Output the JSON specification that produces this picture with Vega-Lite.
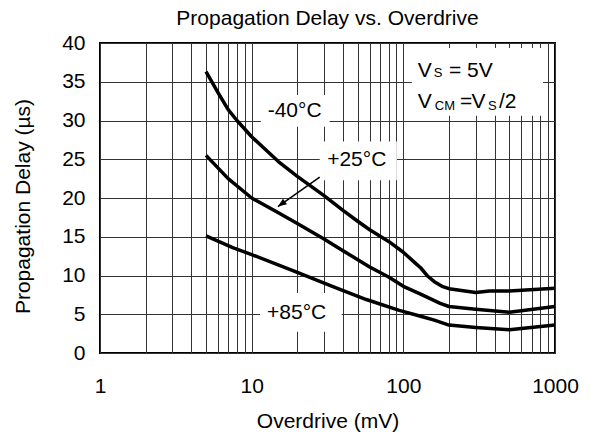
{
  "$schema": "https://vega.github.io/schema/vega-lite/v6.json",
  "width": 455,
  "height": 310,
  "autosize": {"type": "none"},
  "padding": {"left": 100, "top": 43, "right": 35, "bottom": 84},
  "background": "white",
  "config": {
    "font": "Liberation Sans",
    "view": {"stroke": "#000", "strokeWidth": 2},
    "axis": {
      "domain": false,
      "ticks": false,
      "tickSize": 0,
      "grid": true,
      "gridColor": "#333",
      "gridWidth": 1,
      "gridOpacity": 1,
      "labelFont": "Liberation Sans",
      "labelFontSize": 21,
      "labelColor": "#000",
      "labelFlush": false,
      "labelOverlap": false,
      "titleFont": "Liberation Sans",
      "titleFontSize": 21,
      "titleFontWeight": "normal",
      "titleColor": "#000"
    }
  },
  "title": {
    "text": "Propagation Delay vs. Overdrive",
    "font": "Liberation Sans",
    "fontSize": 21,
    "fontWeight": "normal",
    "color": "#000",
    "anchor": "middle",
    "offset": 3
  },
  "datasets": {
    "curves": [
      {"temp": "-40°C", "overdrive": 5, "delay": 36.3},
      {"temp": "-40°C", "overdrive": 6, "delay": 33.6},
      {"temp": "-40°C", "overdrive": 7, "delay": 31.4},
      {"temp": "-40°C", "overdrive": 8, "delay": 30.0},
      {"temp": "-40°C", "overdrive": 10, "delay": 27.9},
      {"temp": "-40°C", "overdrive": 15, "delay": 24.7},
      {"temp": "-40°C", "overdrive": 20, "delay": 22.8},
      {"temp": "-40°C", "overdrive": 30, "delay": 20.3},
      {"temp": "-40°C", "overdrive": 40, "delay": 18.4},
      {"temp": "-40°C", "overdrive": 50, "delay": 17.0},
      {"temp": "-40°C", "overdrive": 60, "delay": 15.9},
      {"temp": "-40°C", "overdrive": 80, "delay": 14.4},
      {"temp": "-40°C", "overdrive": 100, "delay": 13.0},
      {"temp": "-40°C", "overdrive": 120, "delay": 11.6},
      {"temp": "-40°C", "overdrive": 130, "delay": 11.0},
      {"temp": "-40°C", "overdrive": 145, "delay": 9.9},
      {"temp": "-40°C", "overdrive": 160, "delay": 9.2},
      {"temp": "-40°C", "overdrive": 180, "delay": 8.6},
      {"temp": "-40°C", "overdrive": 200, "delay": 8.3},
      {"temp": "-40°C", "overdrive": 300, "delay": 7.8},
      {"temp": "-40°C", "overdrive": 370, "delay": 8.0},
      {"temp": "-40°C", "overdrive": 500, "delay": 8.0},
      {"temp": "-40°C", "overdrive": 1000, "delay": 8.35},
      {"temp": "+25°C", "overdrive": 5, "delay": 25.5},
      {"temp": "+25°C", "overdrive": 7, "delay": 22.5},
      {"temp": "+25°C", "overdrive": 10, "delay": 20.0},
      {"temp": "+25°C", "overdrive": 15, "delay": 18.1},
      {"temp": "+25°C", "overdrive": 20, "delay": 16.7},
      {"temp": "+25°C", "overdrive": 30, "delay": 14.7},
      {"temp": "+25°C", "overdrive": 40, "delay": 13.2},
      {"temp": "+25°C", "overdrive": 60, "delay": 11.1},
      {"temp": "+25°C", "overdrive": 80, "delay": 9.8},
      {"temp": "+25°C", "overdrive": 100, "delay": 8.6},
      {"temp": "+25°C", "overdrive": 130, "delay": 7.6},
      {"temp": "+25°C", "overdrive": 175, "delay": 6.4},
      {"temp": "+25°C", "overdrive": 200, "delay": 6.0},
      {"temp": "+25°C", "overdrive": 300, "delay": 5.66},
      {"temp": "+25°C", "overdrive": 500, "delay": 5.25},
      {"temp": "+25°C", "overdrive": 1000, "delay": 6.0},
      {"temp": "+85°C", "overdrive": 5, "delay": 15.1},
      {"temp": "+85°C", "overdrive": 7.5, "delay": 13.6},
      {"temp": "+85°C", "overdrive": 10, "delay": 12.7},
      {"temp": "+85°C", "overdrive": 20, "delay": 10.4},
      {"temp": "+85°C", "overdrive": 34, "delay": 8.6},
      {"temp": "+85°C", "overdrive": 57, "delay": 6.9},
      {"temp": "+85°C", "overdrive": 94, "delay": 5.5},
      {"temp": "+85°C", "overdrive": 130, "delay": 4.75},
      {"temp": "+85°C", "overdrive": 160, "delay": 4.25},
      {"temp": "+85°C", "overdrive": 200, "delay": 3.6},
      {"temp": "+85°C", "overdrive": 300, "delay": 3.3},
      {"temp": "+85°C", "overdrive": 500, "delay": 3.0},
      {"temp": "+85°C", "overdrive": 1000, "delay": 3.6}
    ],
    "boxes": [
      {"name": "-40°C", "x1": 11.5, "x2": 32.7, "y1": 29.2, "y2": 33.3},
      {"name": "+25°C", "x1": 28.1, "x2": 90.6, "y1": 22.3, "y2": 27.3},
      {"name": "+85°C", "x1": 11.35, "x2": 39.2, "y1": 2.75, "y2": 7.74},
      {"name": "conditions", "x1": 113.8, "x2": 833, "y1": 30.6, "y2": 39.35}
    ],
    "labels": [
      {"text": "-40°C", "x": 19.2, "y": 31.2},
      {"text": "+25°C", "x": 49.3, "y": 24.9},
      {"text": "+85°C", "x": 19.8, "y": 5.16}
    ],
    "arrow": [
      {"x": 28.1, "y": 22.7, "x2": 14.9, "y2": 18.9}
    ],
    "legend": [
      {"kind": "main", "text": "V", "x": 124.7, "y": 35.65},
      {"kind": "sub", "text": "S", "x": 158.9, "y": 35.57},
      {"kind": "main", "text": "= 5V", "x": 199.7, "y": 35.65},
      {"kind": "main", "text": "V", "x": 124.7, "y": 31.57},
      {"kind": "sub", "text": "CM", "x": 161.4, "y": 31.3},
      {"kind": "main", "text": "=", "x": 236, "y": 31.57},
      {"kind": "main", "text": "V", "x": 282, "y": 31.57},
      {"kind": "sub", "text": "S", "x": 361, "y": 31.3},
      {"kind": "main", "text": "/2", "x": 427, "y": 31.57}
    ]
  },
  "layer": [
    {
      "data": {"name": "boxes"},
      "mark": {"type": "rect", "fill": "white", "stroke": null},
      "encoding": {
        "x": {
          "field": "x1",
          "type": "quantitative",
          "scale": {"type": "log", "domain": [1, 1000]},
          "title": "Overdrive (mV)",
          "axis": {
            "values": [1, 2, 3, 4, 5, 6, 7, 8, 9, 10, 20, 30, 40, 50, 60, 70, 80, 90, 100, 200, 300, 400, 500, 600, 700, 800, 900, 1000],
            "tickCount": 100,
            "labelExpr": "datum.value == 1 || datum.value == 10 || datum.value == 100 || datum.value == 1000 ? format(datum.value, 'd') : ''",
            "labelPadding": 22,
            "titleY": 74,
            "titleBaseline": "alphabetic"
          }
        },
        "x2": {"field": "x2"},
        "y": {
          "field": "y1",
          "type": "quantitative",
          "scale": {"domain": [0, 40], "nice": false, "zero": true},
          "title": "Propagation Delay (µs)",
          "axis": {
            "values": [0, 5, 10, 15, 20, 25, 30, 35, 40],
            "tickCount": 20,
            "labelPadding": 15,
            "titleAngle": -90,
            "titleX": -71,
            "titleY": 163,
            "titleAlign": "center",
            "titleBaseline": "alphabetic"
          }
        },
        "y2": {"field": "y2"}
      }
    },
    {
      "data": {"name": "curves"},
      "mark": {"type": "line", "color": "#000", "strokeWidth": 3.5, "interpolate": "linear", "strokeJoin": "round", "strokeCap": "butt"},
      "encoding": {
        "x": {"field": "overdrive", "type": "quantitative"},
        "y": {"field": "delay", "type": "quantitative"},
        "detail": {"field": "temp"}
      }
    },
    {
      "data": {"name": "arrow"},
      "mark": {"type": "rule", "color": "#000", "strokeWidth": 1.5},
      "encoding": {
        "x": {"field": "x", "type": "quantitative"},
        "y": {"field": "y", "type": "quantitative"},
        "x2": {"field": "x2"},
        "y2": {"field": "y2"}
      }
    },
    {
      "data": {"name": "arrow"},
      "mark": {"type": "point", "shape": "M0,0 L-0.4,1 L0.4,1 Z", "filled": true, "color": "#000", "opacity": 1, "size": 300, "angle": 234.3},
      "encoding": {
        "x": {"field": "x2", "type": "quantitative"},
        "y": {"field": "y2", "type": "quantitative"}
      }
    },
    {
      "data": {"name": "labels"},
      "mark": {"type": "text", "font": "Liberation Sans", "fontSize": 21, "color": "#000", "align": "center", "baseline": "middle"},
      "encoding": {
        "x": {"field": "x", "type": "quantitative"},
        "y": {"field": "y", "type": "quantitative"},
        "text": {"field": "text"}
      }
    },
    {
      "data": {"name": "legend"},
      "transform": [{"filter": "datum.kind == 'main'"}],
      "mark": {"type": "text", "font": "Liberation Sans", "fontSize": 21, "color": "#000", "align": "left", "baseline": "alphabetic"},
      "encoding": {
        "x": {"field": "x", "type": "quantitative"},
        "y": {"field": "y", "type": "quantitative"},
        "text": {"field": "text"}
      }
    },
    {
      "data": {"name": "legend"},
      "transform": [{"filter": "datum.kind == 'sub'"}],
      "mark": {"type": "text", "font": "Liberation Sans", "fontSize": 13, "color": "#000", "align": "left", "baseline": "alphabetic"},
      "encoding": {
        "x": {"field": "x", "type": "quantitative"},
        "y": {"field": "y", "type": "quantitative"},
        "text": {"field": "text"}
      }
    }
  ]
}
